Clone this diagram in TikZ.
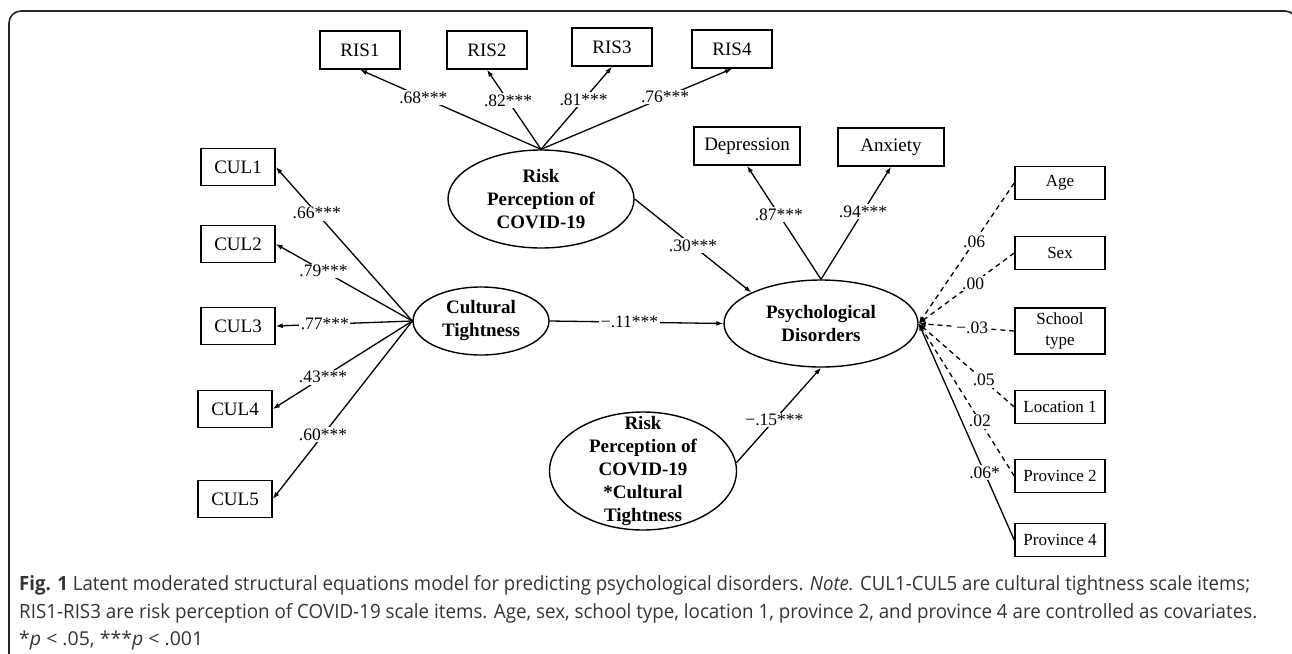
\documentclass[tikz,border=0pt]{standalone}
\usepackage{fontspec}
\setmainfont{Liberation Serif}
\newfontfamily\captionfont{Open Sans}
\usetikzlibrary{
  arrows.meta,
  positioning,
  shapes.geometric
}
\tikzset{
  % For observed indicators.
  indicator/.style={
    draw,
    line width=1.5pt,
    inner sep=0pt,
    minimum width=80pt,
    minimum height=38pt,
    font=\fontsize{19}{21}\selectfont},
%
  % For the control variables on the right.
  covariate/.style={
    indicator,
    minimum width=90pt,
    minimum height=33pt,
    align=center,
    font=\fontsize{17}{21}\selectfont},
%
  % For latent factors; negative inner sep keeps the ellipse tight.
  latent/.style={
    ellipse,
    draw,
    line width=1.4pt,
    inner sep=-14pt,
    align=center,
    font=\fontsize{19}{23}\selectfont\bfseries},
%
  % For paths with one arrow.
  loading/.style={
    line width=1.3pt,
    -{Latex[length=7pt,width=5pt]}},
%
  % For non-significant covariate paths.
  weak loading/.style={
    loading,
    dash pattern=on 5pt off 4pt},
%
  % For path coefficients sitting on the lines.
  coefficient/.style={
    fill=white,
    inner sep=1.5pt,
    font=\fontsize{17.5}{18}\selectfont},
%
  % For the caption lines below the figure.
  caption/.style={
    anchor=base west,
    inner sep=0pt,
    text=black!80,
    font=\captionfont\fontsize{18}{27}\selectfont}
}

\begin{document}
\begin{tikzpicture}[x=1pt,y=-1pt]
  \useasboundingbox (0,0) rectangle (1292,653);
  \draw[line width=1.6pt, rounded corners=12pt, black!85] (9,11) rectangle (1297,672);

  % Latent factors.
  \node[latent, minimum width=186pt, minimum height=98pt] (risk) at (541,199)
    {Risk\\Perception of\\COVID-19};
  \node[latent, minimum width=194pt, minimum height=87pt] (psy) at (821,323.5)
    {Psychological\\Disorders};
  \node[latent, minimum width=136pt, minimum height=68pt] (cult) at (481,321)
    {Cultural\\Tightness};
  \node[latent, minimum width=187pt, minimum height=118pt] (inter) at (643,471)
    {Risk\\Perception of\\COVID-19\\{}*Cultural\\Tightness};

  % Indicators of risk perception.
  \foreach \i/\x/\y in {1/360/50, 2/487/50, 3/612/47, 4/732/49}
    {\node[indicator] (ris\i) at (\x,\y) {RIS\i};}

  % Indicators of cultural tightness.
  \foreach \i/\x/\y in {1/238/167, 2/238/244, 3/238/326, 4/235/409, 5/235/499}
    {\node[indicator, minimum width=74pt, minimum height=37pt] (cul\i) at (\x,\y) {CUL\i};}

  % Indicators of psychological disorders.
  \node[indicator, minimum width=106pt] (dep) at (747,146) {Depression};
  \node[indicator, minimum width=106pt] (anx) at (891,147) {Anxiety};

  % Covariates.
  \node[covariate] (age) at (1060,183) {Age};
  \node[covariate] (sex) at (1060,253) {Sex};
  \node[covariate, minimum height=46pt] (school) at (1060,331) {School\\type};
  \node[covariate] (loc) at (1060,407) {Location 1};
  \node[covariate] (provtwo) at (1060,476) {Province 2};
  \node[covariate] (provfour) at (1060,540) {Province 4};

  % Measurement paths.
  \foreach \i/\val/\p in {1/.68/.65, 2/.82/.61, 3/.81/.6, 4/.76/.65}
    {\draw[loading] (risk.north) -- node[coefficient, pos=\p] {\val***} (ris\i.south);}
  \foreach \i/\val/\p in {1/.66/.7, 2/.79/.65, 3/.77/.64, 4/.43/.64, 5/.60/.64}
    {\draw[loading] (cult.west) -- node[coefficient, pos=\p] {\val***} (cul\i.east);}
  \draw[loading] (psy.north) -- node[coefficient, pos=.57] {.87***} (dep.south);
  \draw[loading] (psy.north) -- node[coefficient, pos=.6] {.94***} (anx.south);

  % Structural paths.
  \draw[loading] (risk.east) -- node[coefficient, pos=.5] {.30***} (psy.156);
  \draw[loading] (cult.east) -- node[coefficient, pos=.46] {−.11***} (psy.west);
  \draw[loading] (inter.5) -- node[coefficient, pos=.45] {−.15***} (psy.south);

  % Covariate paths.
  \foreach \c/\val/\p in {age/.06/.42, sex/.00/.43, school/−.03/.44, loc/.05/.32, provtwo/.02/.36}
    {\draw[weak loading] (\c.west) -- node[coefficient, pos=\p] {\val} (psy.east);}
  \draw[loading] (provfour.west) -- node[coefficient, pos=.31] {.06*} (psy.east);

  % Caption.
  \node[caption] (capone) at (19,590) {\resizebox{1231pt}{15pt}{\textbf{Fig. 1} Latent moderated structural equations model for predicting psychological disorders. \textit{Note.} CUL1-CUL5 are cultural tightness scale items;}};
  \node[caption] (captwo) at (19,618) {\resizebox{1238pt}{15pt}{RIS1-RIS3 are risk perception of COVID-19 scale items. Age, sex, school type, location 1, province 2, and province 4 are controlled as covariates.}};
  \node[caption] (capthree) at (19,645) {\resizebox{184pt}{14.5pt}{*\textit{p} < .05, ***\textit{p} < .001}};
\end{tikzpicture}
\end{document}
